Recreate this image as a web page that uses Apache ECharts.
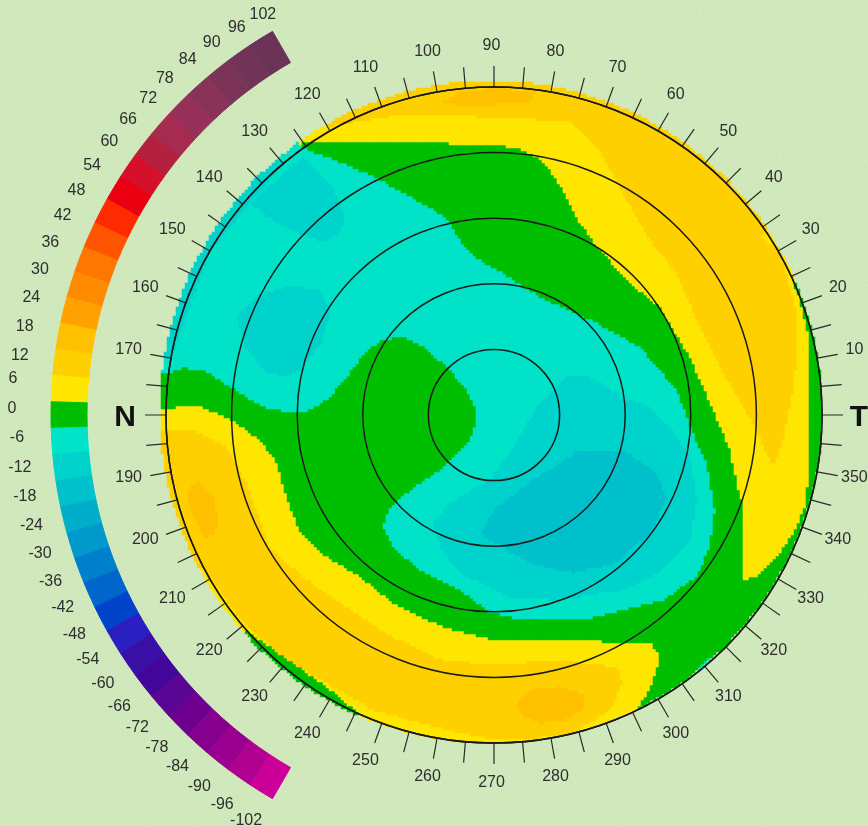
<!DOCTYPE html>
<html>
<head>
<meta charset="utf-8">
<title>Corneal map</title>
<script src="https://cdn.jsdelivr.net/npm/echarts@6/dist/echarts.min.js"></script>
<style>
    html, body { margin: 0; padding: 0; background-color: #d2ebbd; }
    body {
        background-image: url("data:image/svg+xml;utf8,<svg xmlns='http://www.w3.org/2000/svg' width='868' height='826'><filter id='n'><feTurbulence type='fractalNoise' baseFrequency='0.45' numOctaves='2' seed='4'/><feColorMatrix values='0 0 0 0 0.55 0 0 0 0 0.7 0 0 0 0 0.45 0 0 0 0.55 -0.12'/></filter><rect width='868' height='826' filter='url(%23n)'/></svg>");
    }
    #chart { width: 868px; height: 826px; }
</style>
</head>
<body>
<div id="chart"></div>
<script>
// colour scale, top of the arc to the bottom
const scaleLevels = [102, 96, 90, 84, 78, 72, 66, 60, 54, 48, 42, 36, 30, 24, 18, 12, 6, 0,
    -6, -12, -18, -24, -30, -36, -42, -48, -54, -60, -66, -72, -78, -84, -90, -96, -102]
const scaleColors = ['#6c3359', '#713358', '#7b3458', '#8a3358', '#96305a', '#a52b50', '#b4203f', '#d5102a', '#ea0010',
    '#ff2a00', '#ff5500', '#ff7700', '#ff8c00', '#ffa200', '#ffc000', '#ffd000', '#ffe600', '#00bf00',
    '#00e3c8', '#00d2cc', '#00c0cc', '#00aecb', '#0099cc', '#0080cc', '#0066cc', '#0044cc', '#2a1fc0',
    '#3a0fa5', '#42069a', '#5a0594', '#6e0090', '#86008f', '#99008f', '#b00090', '#cc0099']

// labels round the map, one every 10 degrees counter-clockwise from the right
const angleLabels = ['T', '10', '20', '30', '40', '50', '60', '70', '80', '90', '100', '110', '120', '130', '140', '150', '160', '170',
    'N', '190', '200', '210', '220', '230', '240', '250', '260', '270', '280', '290', '300', '310', '320', '330', '340', '350']

// height zones of the map, [x, y] in map units from the centre (5 rings = 328 units), y up
const zone12Top = [[-174, 287], [-127, 295], [-94, 300], [6, 298], [79, 293], [106, 265], [129, 222], [156, 175], [183, 142],
    [203, 95], [226, 48], [259, -8], [279, -52], [289, -28], [301, 32], [303, 82], [303, 102], [286, 165], [266, 178],
    [281, 193], [206, 355], [6, 365], [-164, 325]]
const zone12Low = [[-344, -15], [-301, -15], [-267, -32], [-247, -68], [-224, -132], [-191, -162], [-147, -192], [-101, -222],
    [-51, -245], [6, -250], [63, -245], [123, -252], [129, -268], [116, -295], [79, -318], [29, -325], [6, -325], [-34, -318],
    [-84, -305], [-121, -295], [-167, -268], [-207, -245], [-251, -208], [-291, -152], [-330, -152], [-344, -60]]
const zone18Left = [[-304, -70], [-294, -66], [-281, -80], [-275, -105], [-279, -120], [-289, -123], [-299, -105], [-306, -85]]
const zone18Bottom = [[23, -288], [36, -275], [66, -271], [91, -280], [91, -293], [71, -305], [46, -308], [28, -300]]
const zone18Top = [[-54, 312], [-34, 323], [6, 327], [41, 323], [36, 313], [-4, 310], [-34, 310]]
const zoneGreenRim = [[-258, -210], [-234, -225], [-201, -248], [-167, -272], [-131, -302], [-149, -320], [-194, -305], [-258, -255]]
const zoneGreen = [[-191, 274], [-94, 273], [6, 270], [26, 266], [43, 258], [54, 248], [71, 222], [86, 192], [106, 165], [136, 132],
    [166, 108], [196, 58], [218, 8], [236, -35], [246, -82], [249, -85], [249, -165], [263, -162], [286, -138], [303, -112],
    [313, -85], [316, -2], [314, 82], [306, 115], [299, 132], [346, 132], [346, -285], [206, -345], [142, -305], [146, -290],
    [159, -268], [166, -242], [156, -227], [129, -227], [-4, -224], [-51, -212], [-101, -188], [-134, -162], [-167, -142],
    [-194, -118], [-209, -78], [-217, -48], [-234, -25], [-262, -5], [-294, 9], [-327, 7], [-354, 7], [-354, 55]]
const zoneCyan = [[-191, 267], [-154, 253], [-117, 237], [-81, 217], [-47, 197], [-34, 175], [-14, 155], [6, 144], [46, 118],
    [103, 92], [146, 68], [183, 25], [199, -18], [213, -48], [221, -95], [216, -132], [203, -162], [169, -185], [129, -195],
    [96, -203], [29, -205], [-4, -197], [-34, -175], [-74, -155], [-101, -132], [-111, -112], [-104, -92], [-81, -73], [-47, -50],
    [-24, -25], [-17, -5], [-17, 5], [-29, 28], [-47, 48], [-71, 68], [-91, 78], [-111, 75], [-127, 65], [-147, 38], [-167, 15],
    [-187, 4], [-207, 3], [-231, 8], [-254, 22], [-274, 35], [-291, 45], [-311, 47], [-327, 42], [-354, 42], [-354, 215], [-214, 295]]
const zoneCyanSliver = [[193, -270], [209, -248], [224, -237], [236, -230], [266, -245], [206, -305]]
const zoneCyan12Rim = [[-211, 251], [-284, 164], [-323, 57], [-355, 63], [-312, 180], [-232, 276]]
const zoneCyan12Up = [[-191, 258], [-161, 228], [-149, 198], [-154, 182], [-171, 173], [-191, 180], [-221, 195], [-244, 212]]
const zoneCyan12Mid = [[-257, 98], [-237, 118], [-201, 130], [-174, 125], [-164, 105], [-171, 75], [-191, 48], [-207, 38], [-227, 43], [-247, 65]]
const zoneCyan12Low = [[46, 12], [73, 38], [96, 38], [129, 18], [156, 8], [176, -12], [196, -42], [203, -85], [196, -125], [169, -155],
    [129, -175], [63, -185], [16, -182], [-34, -158], [-54, -132], [-61, -108], [-44, -88], [-17, -72], [-4, -65], [16, -38], [36, -5]]
const zoneCyan18 = [[-14, -118], [3, -92], [39, -65], [86, -35], [129, -35], [163, -58], [173, -82], [159, -115], [123, -148], [79, -158], [36, -148], [-4, -125]]

// painted in this order, later zones on top. Everything else in the disc is level 6
const baseLevel = 6
const zones = [
    [12, zone12Top], [12, zone12Low], [18, zone18Left], [18, zone18Bottom], [18, zone18Top],
    [0, zoneGreenRim], [0, zoneGreen], [-6, zoneCyan], [-6, zoneCyanSliver],
    [-12, zoneCyan12Rim], [-12, zoneCyan12Up], [-12, zoneCyan12Mid], [-12, zoneCyan12Low], [-18, zoneCyan18]
]

const cellSize = 3
const halfWidth = 336

const inside = (x, y, poly) => {
    let hit = false
    for (let i = 0, j = poly.length - 1; i < poly.length; j = i++) {
        const a = poly[i], b = poly[j]
        if ((a[1] > y) !== (b[1] > y) && x < (b[0] - a[0]) * (y - a[1]) / (b[1] - a[1]) + a[0]) hit = !hit
    }
    return hit
}

// the measured disc sits a little up and left of the ring
const discX = -3, discY = 3, discR = 331
const cols = []
for (let i = 0; i < halfWidth * 2 / cellSize; i++) cols.push(-halfWidth + cellSize * i + cellSize / 2)
const cells = []
cols.forEach((x, i) => {
    cols.forEach((y, j) => {
        if (Math.hypot(x - discX, y - discY) > discR) return
        let level = baseLevel
        zones.forEach(z => {
            if (inside(x, y, z[1])) level = z[0]
        })
        cells.push([i, j, level])
    })
})

const blankSlice = { name: '', value: 70, itemStyle: { color: 'transparent' }, label: { show: false } }
const arcSlices = scaleLevels.map((level, i) => ({
    name: String(level),
    value: 1,
    itemStyle: { color: scaleColors[i], borderColor: scaleColors[i], borderWidth: 1 }
}))

// the printed scale numbers do not sit on a clean circle, so nudge them a bit
const scaleLabelOffset = level => {
    if (level >= 12) return [level > 72 ? 0 : 5, 3 + (level - 12) * 0.06]
    if (level >= 0) return [1, -3]
    return [5 - Math.max(0, -level - 42) * 0.37, -3 + Math.max(0, -level - 84) * 0.4]
}
const scaleLabelSlices = scaleLevels.map(level => ({
    name: String(level),
    value: 1,
    label: { offset: scaleLabelOffset(level) }
}))

const letterOffset = { T: [-1, 4], N: [2, 4] }
const angleSlices = angleLabels.map(name => ({
    name: name,
    value: 1,
    label: { offset: letterOffset[name] || [0, 0] }
}))

const textColor = '#2e2e2e'
const fontFamily = '"Liberation Sans", Arial, sans-serif'

const option = {
    animation: false,
    grid: { left: 494 - halfWidth, top: 415 - halfWidth, width: halfWidth * 2, height: halfWidth * 2 },
    xAxis: { type: 'category', data: cols, show: false },
    yAxis: { type: 'category', data: cols, show: false },
    visualMap: {
        show: false,
        type: 'piecewise',
        seriesIndex: 0,
        dimension: 2,
        pieces: scaleLevels.map((level, i) => ({ value: level, color: scaleColors[i] }))
    },
    polar: { center: [494, 415], radius: 328 },
    angleAxis: {
        type: 'value',
        min: 0,
        max: 360,
        interval: 5,
        startAngle: 0,
        clockwise: false,
        z: 5,
        axisLine: { lineStyle: { color: '#1a1a1a', width: 1.5 } },
        axisTick: { length: 21, lineStyle: { color: '#2a2a2a', width: 1.2 } },
        splitLine: { show: false },
        axisLabel: { show: false }
    },
    radiusAxis: {
        type: 'value',
        min: 0,
        max: 5,
        interval: 1,
        z: 5,
        axisLine: { show: false },
        axisTick: { show: false },
        axisLabel: { show: false },
        splitLine: { lineStyle: { color: '#1a1a1a', width: 1.5 } }
    },
    series: [
        {
            type: 'heatmap',
            data: cells,
            z: 1,
            progressive: 0,
            silent: true
        },
        {
            type: 'pie',
            center: [494, 415],
            radius: [407, 443],
            startAngle: 120,
            clockwise: false,
            silent: true,
            label: { show: false },
            labelLine: { show: false },
            data: arcSlices.concat(blankSlice)
        },
        {
            // scale numbers
            type: 'pie',
            center: [463, 411],
            radius: [440, 458],
            startAngle: 114.4,
            clockwise: false,
            silent: true,
            avoidLabelOverlap: false,
            itemStyle: { color: 'transparent' },
            label: { position: 'inside', color: textColor, fontSize: 16, fontFamily: fontFamily, formatter: '{b}' },
            labelLine: { show: false },
            data: scaleLabelSlices.concat({ name: '', value: 61, itemStyle: { color: 'transparent' }, label: { show: false } })
        },
        {
            // degree numbers and the T / N letters
            type: 'pie',
            center: [491.5, 414],
            radius: [356, 375],
            startAngle: -5,
            clockwise: false,
            silent: true,
            avoidLabelOverlap: false,
            itemStyle: { color: 'transparent' },
            label: {
                position: 'inside',
                color: textColor,
                fontSize: 16,
                fontFamily: fontFamily,
                formatter: p => (p.name === 'T' || p.name === 'N') ? '{big|' + p.name + '}' : p.name,
                rich: {
                    big: { fontSize: 30, fontWeight: 'bold', color: '#111', fontFamily: fontFamily }
                }
            },
            labelLine: { show: false },
            data: angleSlices
        }
    ]
}

const myChart = echarts.init(document.getElementById('chart'))
myChart.setOption(option)
</script>
</body>
</html>
